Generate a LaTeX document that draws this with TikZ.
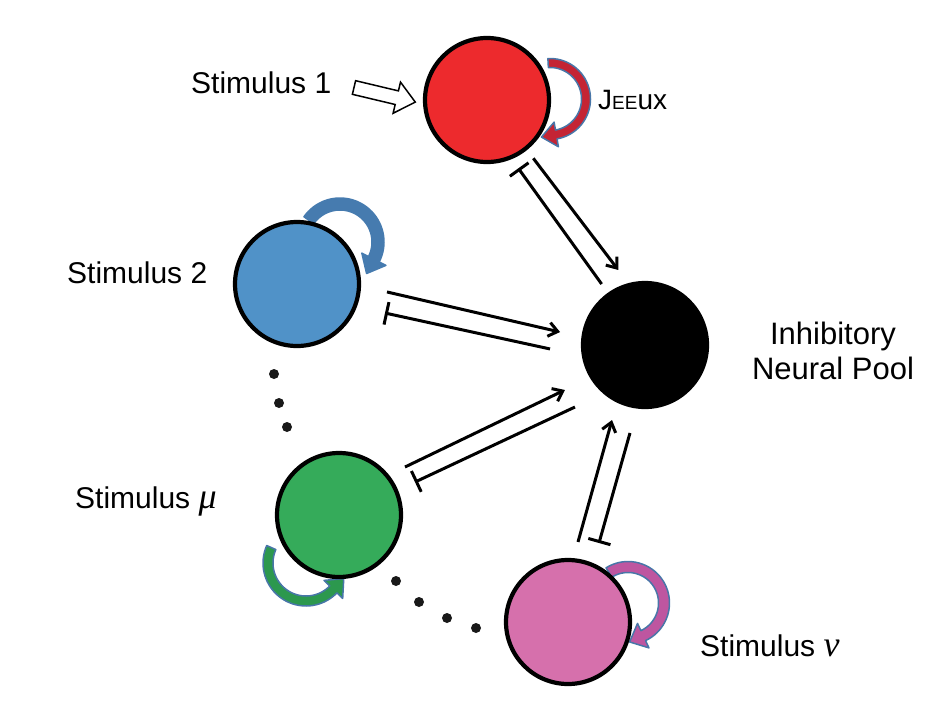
\documentclass[tikz,border=0pt]{standalone}
\usepackage{fontspec}
\setmainfont{Liberation Sans}
\newfontfamily\greekserif{Liberation Serif}
\usetikzlibrary{calc,arrows.meta}

\definecolor{cred}{RGB}{237,42,45}
\definecolor{cblue}{RGB}{80,146,200}
\definecolor{cgreen}{RGB}{53,171,90}
\definecolor{cpink}{RGB}{214,112,172}
\definecolor{lred}{RGB}{196,36,52}
\definecolor{lblue}{RGB}{70,123,175}
\definecolor{lgreen}{RGB}{44,152,78}
\definecolor{lpink}{RGB}{190,86,160}
\definecolor{ledge}{RGB}{72,118,168}
\definecolor{dotc}{RGB}{25,25,25}

% curved block arrow: #1 cx, #2 cy, #3 r, #4 a1, #5 a2, #6 band width, #7 head width, #8 signed head length, #9 style
\newcommand\selfloop[9]{%
  \filldraw[#9]
    plot[domain=#4:#5,samples=40] ({(#1)+((#3)+(#6)/2)*cos(\x)},{(#2)+((#3)+(#6)/2)*sin(\x)})
    -- ({(#1)+((#3)+(#7)/2)*cos(#5)},{(#2)+((#3)+(#7)/2)*sin(#5)})
    -- ({(#1)+(#3)*cos(#5)+(#8)*(-sin(#5))},{(#2)+(#3)*sin(#5)+(#8)*cos(#5)})
    -- ({(#1)+((#3)-(#7)/2)*cos(#5)},{(#2)+((#3)-(#7)/2)*sin(#5)})
    -- plot[domain=#5:#4,samples=40] ({(#1)+((#3)-(#6)/2)*cos(\x)},{(#2)+((#3)-(#6)/2)*sin(\x)})
    -- cycle;}

\newcommand\gsym[1]{{\greekserif\itshape\fontsize{36}{36}\selectfont #1}}

\begin{document}
\begin{tikzpicture}[x=1pt,y=-1pt,
  pool/.style={circle, draw=black, line width=4.2pt, minimum size=124pt, inner sep=0pt},
  exc/.style={line width=3pt, -{Straight Barb[length=9pt,width=14pt]}},
  inh/.style={line width=3pt, -{Bar[width=23pt]}},
  lab/.style={font=\fontsize{30}{36}\selectfont, inner sep=0pt},
  loopstyle/.style={line width=1.5pt, line join=round}]
\useasboundingbox (0,0) rectangle (928,709);

% coordinates of the pools
\coordinate (pr) at (487,100);
\coordinate (pb) at (297,284);
\coordinate (pg) at (339,515);
\coordinate (pp) at (568,622);

% self-excitation loops
\begin{scope}[shift={(pr)}]
  \selfloop{63}{-1}{36}{-93}{80}{9}{25}{15}{loopstyle, fill=lred, draw=ledge}
\end{scope}
\begin{scope}[shift={(pb)}]
  \selfloop{43}{-42}{38}{-145}{27}{12}{27}{16}{loopstyle, fill=lblue, draw=lblue}
\end{scope}
\begin{scope}[shift={(pg)}]
  \selfloop{-33}{48}{38}{204}{44}{10}{26}{-15}{loopstyle, fill=lgreen, draw=ledge}
\end{scope}
\begin{scope}[shift={(pp)}]
  \selfloop{60}{-19}{36}{-122}{65}{11}{27}{15}{loopstyle, fill=lpink, draw=ledge}
\end{scope}

% pools
\node[pool, fill=cred]   (red)   at (pr) {};
\node[pool, fill=cblue]  (blue)  at (pb) {};
\node[pool, fill=cgreen] (green) at (pg) {};
\node[pool, fill=cpink]  (pink)  at (pp) {};
\node[pool, fill=black]  (inhib) at (645,345) {};

% excitatory and inhibitory connections
\draw[exc] ($(red)!74.1pt!(inhib)!7.3pt!90:(inhib)$) -- ($(red)!214pt!(inhib)!18.2pt!90:(inhib)$);
\draw[inh] ($(red)!216.8pt!(inhib)!3.4pt!-90:(inhib)$) -- ($(red)!74.4pt!(inhib)!10.7pt!-90:(inhib)$);

\draw[exc] ($(blue)!90pt!(inhib)!7.7pt!90:(inhib)$) -- ($(blue)!267.4pt!(inhib)!1.9pt!-90:(inhib)$);
\draw[inh] ($(blue)!260.4pt!(inhib)!20.3pt!-90:(inhib)$) -- ($(blue)!91.7pt!(inhib)!13.4pt!-90:(inhib)$);

\draw[exc] ($(green)!81pt!(inhib)!9.9pt!90:(inhib)$) -- ($(green)!258.2pt!(inhib)!0.4pt!-90:(inhib)$);
\draw[inh] ($(green)!258.7pt!(inhib)!20.2pt!-90:(inhib)$) -- ($(green)!82.4pt!(inhib)!8.1pt!-90:(inhib)$);

\draw[exc] ($(pink)!79.8pt!(inhib)!11.8pt!90:(inhib)$) -- ($(pink)!206.4pt!(inhib)!11.7pt!90:(inhib)$);
\draw[inh] ($(pink)!198.7pt!(inhib)!9.1pt!-90:(inhib)$) -- ($(pink)!84.4pt!(inhib)!8.7pt!-90:(inhib)$);

% stimulus input arrow
\begin{scope}[shift={(354,87.5)}, rotate=-13.4]
  \draw[line width=1.5pt, fill=white, line join=miter]
    (0,-7) -- (44,-7) -- (44,-16) -- (63,0) -- (44,16) -- (44,7) -- (0,7) -- cycle;
\end{scope}

% ellipsis dots
\foreach \p in {(274,374),(279,403),(287,427),(396,581),(419,602),(447,618),(476,628)}
  \fill[dotc] \p circle (5pt);

% labels
\node[lab, anchor=base west] (s1) at (191,93) {Stimulus 1};
\node[lab, anchor=base west] (s2) at (67,283) {Stimulus 2};
\node[lab, anchor=base west] (smu) at (75,508) {Stimulus \gsym{μ}};
\node[lab, anchor=base west] (snu) at (700,656) {Stimulus \gsym{ν}};
\node[font=\fontsize{31}{35}\selectfont, inner sep=0pt, align=center, anchor=center] (ilab) at (833,351) {Inhibitory\\Neural Pool};
\node[font=\fontsize{28}{30}\selectfont, inner sep=0pt, anchor=base west] (jlab) at (598,109) {J{\fontsize{19}{20}\selectfont EE}ux};
\end{tikzpicture}
\end{document}
